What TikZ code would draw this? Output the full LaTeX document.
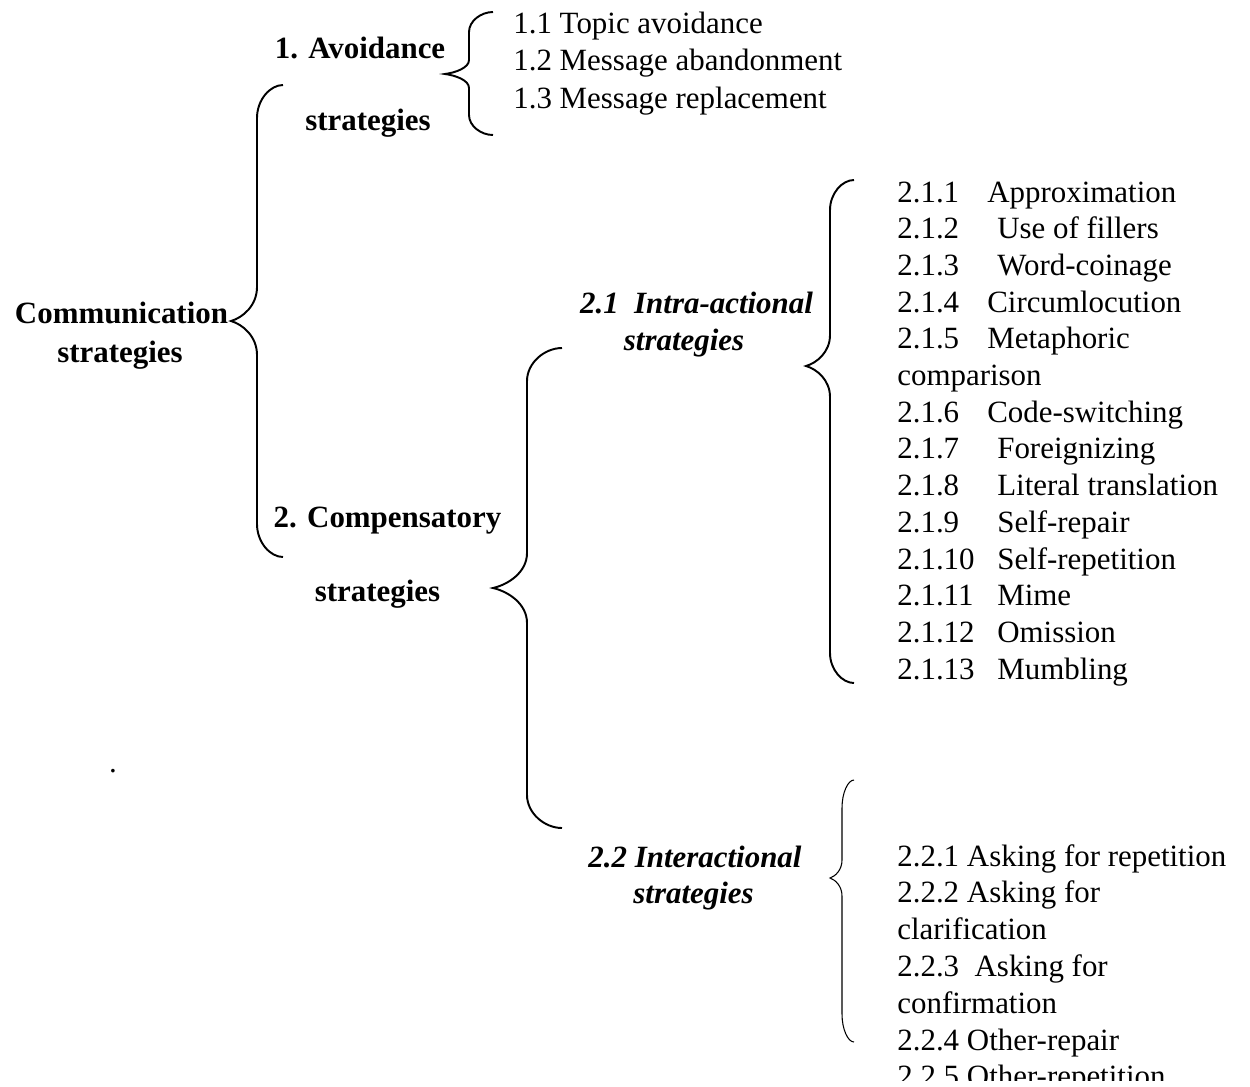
\documentclass[tikz,border=0pt]{standalone}
\usepackage{fontspec}
\setmainfont{Liberation Serif}
% curly brace opening to the right: end x, stem x, tip x, top y, tip y, bottom y, end bend, tip bend
\newcommand{\curlybr}[8]{%
  (#1,#4) .. controls ({#2+0.5*(#1-#2)},#4) and (#2,{#4+0.45*#7}) .. (#2,{#4+#7})
  -- (#2,{#5-#8}) .. controls (#2,{#5-0.45*#8}) and ({#3+0.45*(#2-#3)},{#5-0.1*#8}) .. (#3,#5)
  .. controls ({#3+0.45*(#2-#3)},{#5+0.1*#8}) and (#2,{#5+0.45*#8}) .. (#2,{#5+#8})
  -- (#2,{#6-#7}) .. controls (#2,{#6-0.45*#7}) and ({#2+0.5*(#1-#2)},#6) .. (#1,#6)}
\begin{document}
\begin{tikzpicture}[x=0.02cm, y=-0.02cm,
    every node/.style={inner sep=0pt, font=\fontsize{17.6}{21}\selectfont},
    head/.style={anchor=base, font=\fontsize{17.6}{21}\selectfont\bfseries},
    subhead/.style={anchor=base, font=\fontsize{17.6}{21}\selectfont\bfseries\itshape},
    item/.style={anchor=base west},
    brace/.style={line width=1.1pt},
    thinbrace/.style={line width=0.6pt}]
  \useasboundingbox (0,0) rectangle (1250,1086);
  \clip (0,0) rectangle (1250,1080);
  % headings
  \node[head] (comm) at (121.5,323) {Communication};
  \node[head] (comm2) at (120,362) {strategies};
  \node[head] (avoid) at (360,58) {1. Avoidance};
  \node[head] (avoid2) at (368,130) {strategies};
  \node[head] (comp) at (387.5,527) {2. Compensatory};
  \node[head] (comp2) at (377.5,601) {strategies};
  \node[subhead] (intra) at (696.5,313) {2.1\ \ Intra-actional};
  \node[subhead] (intra2) at (684,350) {strategies};
  \node[subhead] (inter) at (695,867) {2.2 Interactional};
  \node[subhead] (inter2) at (693.5,903) {strategies};
  \node[anchor=base] (dot) at (113,772) {.};
  % lists
  \foreach \txt [count=\k] in {Topic avoidance, Message abandonment, Message replacement}
    \node[item] (av\k) at (513,{33+37.5*(\k-1)}) {1.\k\ \txt};
  \foreach \w/\num/\txt [count=\k] in {
      1.8cm/2.1.1/Approximation, 2.0cm/2.1.2/Use of fillers, 2.0cm/2.1.3/Word-coinage,
      1.8cm/2.1.4/Circumlocution, 1.8cm/2.1.5/Metaphoric, 0pt/{}/comparison,
      1.8cm/2.1.6/Code-switching, 2.0cm/2.1.7/Foreignizing, 2.0cm/2.1.8/Literal translation,
      2.0cm/2.1.9/Self-repair, 2.0cm/2.1.10/Self-repetition, 2.0cm/2.1.11/Mime,
      2.0cm/2.1.12/Omission, 2.0cm/2.1.13/Mumbling}
    \node[item] (ia\k) at (897,{202+36.7*(\k-1)}) {\makebox[\w][l]{\num}\txt};
  \foreach \txt [count=\k] in {2.2.1 Asking for repetition, 2.2.2 Asking for, clarification,
      2.2.3\ \ Asking for, confirmation, 2.2.4 Other-repair, 2.2.5 Other-repetition}
    \node[item] (ir\k) at (897,{866+36.8*(\k-1)}) {\txt};
  % braces
  \draw[brace] \curlybr{283}{257}{231}{85}{321}{557}{33}{34};
  \draw[brace] \curlybr{493}{469}{445}{12}{74}{135}{20}{14};
  \draw[brace] \curlybr{562}{527}{493}{348}{588}{828}{33}{35};
  \draw[brace] \curlybr{854}{830}{806}{180}{366}{683}{30}{31};
  \draw[thinbrace] \curlybr{854}{842}{830}{780}{878}{1042}{28}{18};
\end{tikzpicture}
\end{document}
